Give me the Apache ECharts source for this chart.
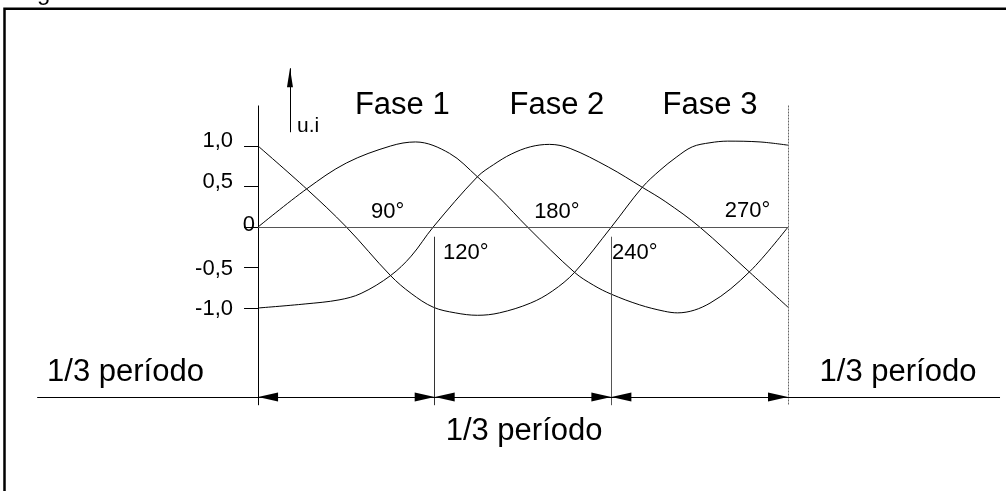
<!DOCTYPE html>
<html>
<head>
<meta charset="utf-8">
<title>Fases</title>
<script src="https://cdn.jsdelivr.net/npm/echarts@6/dist/echarts.min.js"></script>
<style>
  html, body { margin: 0; padding: 0; background: #fff; }
  #chart { width: 1006px; height: 491px; }
</style>
</head>
<body>
<div id="chart"></div>
<script>
// angle (deg) / value pairs
const phase1Deg = [0, 33, 60, 90, 107, 130, 149, 164, 183, 215, 228, 240, 259, 276, 285, 307, 334, 360];
const phase1Val = [0, 0.47, 0.79, 1.0, 1.05, 0.91, 0.62, 0.36, 0, -0.56, -0.72, -0.83, -0.96, -1.04, -1.06, -0.94, -0.55, 0];

const phase2Deg = [0, 32, 55, 70, 90, 104, 119, 149, 160, 172, 185, 198, 212, 238, 261, 277, 300, 334, 360];
const phase2Val = [-1.0, -0.95, -0.9, -0.82, -0.6, -0.36, 0, 0.62, 0.77, 0.9, 0.99, 1.02, 0.97, 0.74, 0.49, 0.31, 0, -0.56, -0.99];

const phase3Deg = [0, 33, 60, 90, 104, 119, 134, 149, 164, 185, 200, 215, 240, 261, 273, 284, 295, 307, 319, 341, 360];
const phase3Val = [1.0, 0.47, 0, -0.6, -0.82, -0.99, -1.06, -1.09, -1.06, -0.94, -0.79, -0.56, 0, 0.49, 0.7, 0.86, 0.99, 1.04, 1.06, 1.05, 1.01];

const tickValues = [-1, -0.5, 0, 0.5, 1];
const phaseNames = ['Fase 1', 'Fase 2', 'Fase 3'];
const thirdMarks = [0, 120, 240, 360];

const FONT = 'Liberation Sans, Arial, sans-serif';
const DIM_Y = -2.1;
const X_MIN = -150, X_MAX = 505;
const GRID_LEFT = 37.2, GRID_W = 964.3;

const zip = (xs, ys) => xs.map((x, i) => [x, ys[i]]);

function curve(name, xs, ys, extra) {
    return Object.assign({
        name: name,
        type: 'line',
        data: zip(xs, ys),
        smooth: 0.35,
        showSymbol: false,
        symbol: 'none',
        silent: true,
        lineStyle: { color: '#000', width: 1 }
    }, extra || {});
}

function end(coord, withArrow, size) {
    const s = size || [9, 20];
    if (!withArrow) return { coord: coord, symbol: 'none' };
    return { coord: coord, symbol: 'triangle', symbolSize: s, symbolOffset: [0, s[1] / 2] };
}

// drawing lines: axis, zero line, guides and the dimension line
const guides = [
    [end([0, 1.5]), end([0, -2.2])],
    [end([0, 0]), end([360, 0]), { lineStyle: { color: '#555' } }],
    [end([120, -0.12]), end([120, -2.2]), { lineStyle: { color: '#333' } }],
    [end([240, -0.12]), end([240, -2.2]), { lineStyle: { color: '#555' } }],
    [end([360, 1.5]), end([360, -2.2]), { lineStyle: { color: '#666', type: [2, 1] } }],
    [end([X_MIN, DIM_Y]), end([504, DIM_Y])],
    [end([21.7, 1.17]), end([21.7, 1.96], true, [6, 19])]
].map(g => {
    const item = [g[0], g[1]];
    if (g[2]) Object.assign(item[0], g[2]);
    return item;
});
for (let i = 0; i < thirdMarks.length - 1; i++) {
    guides.push([end([thirdMarks[i], DIM_Y], true), end([thirdMarks[i + 1], DIM_Y], true)]);
}

const chartDom = document.getElementById('chart');
const myChart = echarts.init(chartDom, null, { renderer: 'canvas' });

// y axis sits at 0 deg, inside the wide grid
const yAxisOffset = -(0 - X_MIN) / (X_MAX - X_MIN) * GRID_W;

const option = {
    animation: false,
    backgroundColor: '#fff',
    grid: { left: GRID_LEFT, width: GRID_W, top: 65, height: 340.2, containLabel: false, outerBoundsMode: 'none' },
    xAxis: {
        type: 'value', min: X_MIN, max: X_MAX, show: false
    },
    yAxis: {
        type: 'value', min: -2.2, max: 2.0,
        position: 'left',
        offset: yAxisOffset,
        axisLine: { show: false, onZero: false },
        splitLine: { show: false },
        axisTick: { show: true, customValues: tickValues, length: 14, lineStyle: { color: '#000', width: 1 } },
        axisLabel: {
            show: true,
            customValues: tickValues,
            margin: 3,
            formatter: v => {
                if (v === 0) return '{z|0}';
                const s = v.toFixed(1).replace('.', ',');
                return v > 0 ? '{u|' + s + '}' : '{d|' + s + '}';
            },
            rich: {
                u: { fontSize: 22, fontFamily: FONT, color: '#000', padding: [0, 22, 10, 0] },
                d: { fontSize: 22, fontFamily: FONT, color: '#000', padding: [2, 22, 0, 0] },
                z: { fontSize: 22, fontFamily: FONT, color: '#000', padding: [0, 0, 4, 0] }
            }
        }
    },
    series: [
        curve(phaseNames[0], phase1Deg, phase1Val, {
            markLine: {
                silent: true,
                symbol: 'none',
                label: { show: false },
                lineStyle: { color: '#000', width: 1, type: 'solid' },
                emphasis: { disabled: true },
                data: guides
            }
        }),
        curve(phaseNames[1], phase2Deg, phase2Val),
        curve(phaseNames[2], phase3Deg, phase3Val)
    ]
};
myChart.setOption(option);

// text notes placed in the chart's own angle / value space
const notes = [
    { text: phaseNames[0], at: [98, 1.5], size: 31 },
    { text: phaseNames[1], at: [203, 1.5], size: 31 },
    { text: phaseNames[2], at: [307, 1.5], size: 31 },
    { text: '90°', at: [88, 0.19], size: 22 },
    { text: '180°', at: [203, 0.19], size: 22 },
    { text: '270°', at: [332.5, 0.2], size: 22 },
    { text: '120°', at: [125.7, -0.315], size: 22, align: 'left' },
    { text: '240°', at: [240.5, -0.315], size: 22, align: 'left' },
    { text: 'u.i', at: [26.5, 1.25], size: 21, align: 'left' },
    { text: '1/3 período', at: [-90, -1.79], size: 31 },
    { text: '1/3 período', at: [434.7, -1.79], size: 31 },
    { text: '1/3 período', at: [180.7, -2.52], size: 31 }
];

const graphics = notes.map(n => {
    const p = myChart.convertToPixel({ gridIndex: 0 }, n.at);
    return {
        type: 'text',
        x: p[0], y: p[1],
        silent: true,
        style: {
            text: n.text,
            fontSize: n.size,
            fontFamily: FONT,
            fill: '#000',
            align: n.align || 'center',
            verticalAlign: 'middle'
        }
    };
});
// sheet frame and clipped caption at the top-left
graphics.push({
    type: 'polyline',
    silent: true,
    shape: { points: [[4.5, 495], [4.5, 8.7], [1010, 8.7]] },
    style: { stroke: '#000', lineWidth: 2.5, fill: null }
});
graphics.push({
    type: 'text', x: 17, y: 5, silent: true,
    style: { text: 'Figura 1', fontSize: 24, fontFamily: FONT, fill: '#000', verticalAlign: 'bottom' }
});

myChart.setOption({ graphic: graphics });

window.addEventListener('resize', function() {
    myChart.resize();
});
</script>
</body>
</html>
